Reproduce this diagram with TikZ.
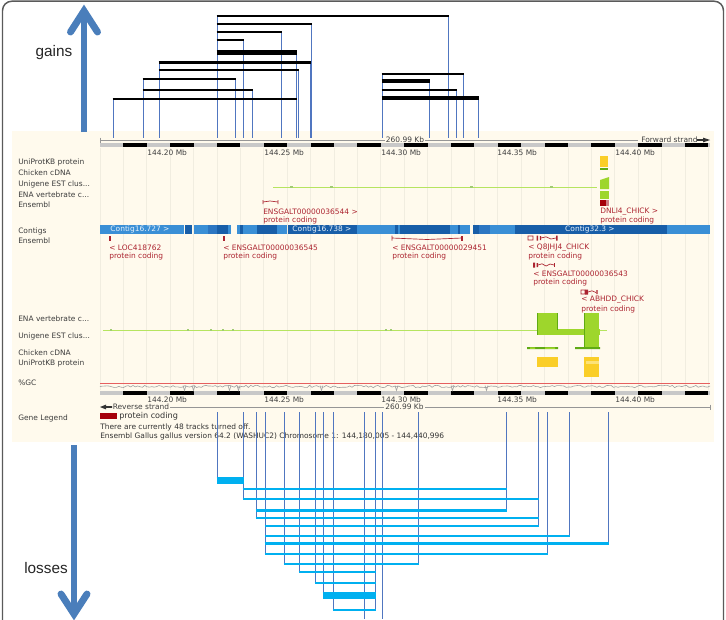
\documentclass[tikz,border=0pt]{standalone}
\usepackage{fontspec}
\setmainfont{DejaVu Sans}
\newfontfamily\headfont{Liberation Sans}
\usetikzlibrary{arrows.meta}

\definecolor{framegray}{RGB}{90,90,90}
\definecolor{panelcream}{RGB}{255,250,237}
\definecolor{gridline}{RGB}{241,237,224}
\definecolor{rulergray}{RGB}{200,200,200}
\definecolor{scalegray}{RGB}{150,150,150}
\definecolor{labelgray}{RGB}{60,60,60}
\definecolor{genered}{RGB}{172,36,48}
\definecolor{legendred}{RGB}{165,0,10}
\definecolor{contigL}{RGB}{58,143,214}
\definecolor{contigM}{RGB}{44,118,194}
\definecolor{contigD}{RGB}{24,94,168}
\definecolor{lime}{RGB}{158,214,44}
\definecolor{limedark}{RGB}{96,170,20}
\definecolor{limelight}{RGB}{182,228,96}
\definecolor{featyellow}{RGB}{250,206,40}
\definecolor{featyellowlight}{RGB}{252,226,120}
\definecolor{gcred}{RGB}{230,95,95}
\definecolor{gcgray}{RGB}{160,160,160}
\definecolor{arrowblue}{RGB}{74,126,187}
\definecolor{linkblue}{RGB}{80,118,192}
\definecolor{losscyan}{RGB}{0,176,240}

\begin{document}
\begin{tikzpicture}[x=0.75pt,y=-0.75pt,
  tiny/.style={font=\fontsize{5.6}{6.5}\selectfont, inner sep=0pt, anchor=west},
  tracklabel/.style={tiny, text=labelgray},
  genetext/.style={tiny, text=genered},
  rulertext/.style={tiny, text=black!75},
  contigtext/.style={tiny, anchor=center, text=white!88!contigL},
  vlink/.style={draw=linkblue, line width=0.6pt},
  gainbar/.style={draw=black},
  lossbar/.style={draw=losscyan},
  bigarrow/.style={draw=arrowblue, line width=5.2pt},
  headtext/.style={font=\headfont\fontsize{11.5}{13}\selectfont, text=black!85, inner sep=0pt}]

\useasboundingbox (0,0) rectangle (726,619);
\fill[white] (0,0) rectangle (726,619);

% outer frame, open below the visible area
\draw[framegray, line width=1.1pt, rounded corners=7pt] (2.5,1.2) rectangle (723.5,660);

% ---------------- genome browser panel ----------------
\fill[panelcream] (12,131) rectangle (714,442);

% faint 10 kb grid
\foreach \k in {0,...,26}
  \draw[gridline, line width=0.5pt] ({100+23.4*\k},148) -- ({100+23.4*\k},390);

% rulers (forward and reverse strand)
\foreach \ry in {145,393} {
  \fill[rulergray] (100,\ry-1.6) rectangle (710,\ry+1.6);
  \foreach \k in {0,...,12}
    \fill[black] ({100+23.4*(2*\k+1)},\ry-1.6) rectangle ({100+23.4*(2*\k+2)},\ry+1.6);
}
\foreach \lab/\xx [count=\i] in {144.20/147,144.25/264,144.30/381,144.35/497,144.40/615} {
  \node[rulertext, name=mbtop\i] at (\xx,152.5) {\lab\ Mb};
  \node[rulertext, name=mbbot\i] at (\xx,399.5) {\lab\ Mb};
}

% forward strand scale line
\draw[scalegray, line width=0.5pt] (100,137.5) -- (100,142.5) (100,140) -- (385,140) (425,140) -- (638,140);
\node[rulertext, anchor=center] (kbtop) at (405,140) {260.99 Kb};
\node[rulertext] (fwd) at (641,140) {Forward strand};
\fill[black!80] (697,139.2) -- (703,139.2) -- (703,137.6) -- (710,140) -- (703,142.4) -- (703,140.8) -- (697,140.8) -- cycle;

% reverse strand scale line
\fill[black!80] (100,407) -- (106,404.6) -- (106,406.2) -- (112,406.2) -- (112,407.8) -- (106,407.8) -- (106,409.4) -- cycle;
\node[rulertext] (rev) at (112.5,407) {Reverse strand};
\draw[scalegray, line width=0.5pt] (170,407) -- (384,407) (425,407) -- (710,407) (710,404.5) -- (710,409.5);
\node[rulertext, anchor=center] (kbbot) at (404.5,407) {260.99 Kb};

% track names
\node[tracklabel] (t1) at (18,162) {UniProtKB protein};
\node[tracklabel] (t2) at (18,173) {Chicken cDNA};
\node[tracklabel] (t3) at (18,184) {Unigene EST clus...};
\node[tracklabel] (t4) at (18,194.5) {ENA vertebrate c...};
\node[tracklabel] (t5) at (18,205) {Ensembl};
\node[tracklabel] (t6) at (18,231) {Contigs};
\node[tracklabel] (t7) at (18,241) {Ensembl};
\node[tracklabel] (t8) at (18,319) {ENA vertebrate c...};
\node[tracklabel] (t9) at (18,336) {Unigene EST clus...};
\node[tracklabel] (t10) at (18,353) {Chicken cDNA};
\node[tracklabel] (t11) at (18,363) {UniProtKB protein};
\node[tracklabel] (t12) at (18,383) {\%GC};
\node[tracklabel] (t13) at (18,418) {Gene Legend};

% forward-strand features
\draw[limelight, line width=0.6pt] (273,187) -- (597,187);
\foreach \xx in {290,330,470,550} \fill[limedark!60] (\xx,186.3) rectangle (\xx+3,187.7);
\fill[featyellow] (600,156) rectangle (608,167);
\fill[limedark] (600,168.4) rectangle (608,170);
\fill[lime] (600,180) -- (606,178) -- (609,177) -- (609,189) -- (600,189) -- cycle;
\fill[lime] (600,190.5) rectangle (609,198.5);
\fill[legendred] (600,200) rectangle (609,205.5);
\fill[genered!60] (606,200) rectangle (609,205.5);

\draw[genered, line width=0.5pt] (263,200) -- (263,204) (263,202) -- (270,201) -- (278,202) (278,200) -- (278,204);
\node[genetext] (e36544) at (263,211.5) {ENSGALT00000036544 >};
\node[genetext] (e36544b) at (263,220.5) {protein coding};
\node[genetext] (dnli) at (600,211.5) {DNLI4\_CHICK >};
\node[genetext] (dnlib) at (600,220.5) {protein coding};

% contigs
\foreach \a/\b/\c in {100/183.5/contigL,184.5/192/contigD,194/208/contigL,208/217/contigM,
    217/228/contigD,228/231/contigL,237/240/contigL,240/243/contigD,243/257/contigL,
    257/277/contigD,277/287/contigL,288/357/contigD,357/395/contigL,395/398/contigD,
    398/400/contigL,400/450/contigD,450/458/contigL,458/460/contigD,460/470/contigL,
    473/479/contigD,479/490/contigM,490/515/contigL,515/667/contigD,667/710/contigL}
  \fill[\c] (\a,225) rectangle (\b,234);
\node[contigtext] (c1) at (140,229.5) {Contig16.727 >};
\node[contigtext] (c2) at (322,229.5) {Contig16.738 >};
\node[contigtext] (c3) at (590,229.5) {Contig32.3 >};

% reverse-strand genes
\fill[genered] (108.5,236) rectangle (110.5,241);
\fill[genered] (222.5,236) rectangle (224.5,241);
\draw[genered, line width=0.5pt] (392,235.5) -- (392,240.5) (392,238) -- (427,239.5) -- (462,238);
\fill[genered] (461.3,235.5) rectangle (462.8,240.5);
\draw[genered, line width=0.5pt] (528,236) rectangle (533,240) (541,238) -- (546,236.8) -- (551,239) -- (556,238);
\fill[genered] (536.5,235.5) rectangle (538.2,240.5) (539.8,236) rectangle (541,240) (556,235.5) rectangle (557.5,240.5);
\fill[genered] (533,262.5) rectangle (535,267.5) (536.5,263) rectangle (538,267);
\draw[genered, line width=0.5pt] (538,265) -- (542,263.8) -- (546,266) -- (550,264) -- (554,265);
\fill[genered] (554,262.7) rectangle (555.3,267.3);
\draw[genered, line width=0.5pt] (581,290) rectangle (585,294) (588,292) -- (592,290.8) -- (596,292.5);
\fill[genered] (585,289.5) rectangle (588,294.5) (596.3,290) rectangle (597.6,294);

\node[genetext] (loc) at (109,247.5) {< LOC418762};
\node[genetext] (locb) at (109,256.5) {protein coding};
\node[genetext] (e36545) at (223,247.5) {< ENSGALT00000036545};
\node[genetext] (e36545b) at (223,256.5) {protein coding};
\node[genetext] (e29451) at (392,247.5) {< ENSGALT00000029451};
\node[genetext] (e29451b) at (392,256.5) {protein coding};
\node[genetext] (q8) at (528,247.5) {< Q8JHJ4\_CHICK};
\node[genetext] (q8b) at (528,256.5) {protein coding};
\node[genetext] (e36543) at (533,273.5) {< ENSGALT00000036543};
\node[genetext] (e36543b) at (533,282.5) {protein coding};
\node[genetext] (abhdd) at (581,300) {< ABHDD\_CHICK};
\node[genetext] (abhddb) at (581,309) {protein coding};

% reverse-strand alignments
\draw[limelight, line width=0.6pt] (103,330) -- (607,330);
\foreach \xx in {110,187,210,222,232,385,390} \fill[limedark!60] (\xx,329.3) rectangle (\xx+2,330.7);
\fill[lime] (537,313) rectangle (558,335);
\fill[lime] (537,328.5) rectangle (600,335);
\fill[lime] (584,313) rectangle (599,347);
\draw[limedark, line width=0.7pt] (537.5,313) -- (537.5,335) (557.5,313) -- (557.5,330) (584.5,313) -- (584.5,347);
\fill[limedark] (527,347.2) rectangle (558,349) (575,347.2) rectangle (600,349);
\fill[lime] (530,347.4) rectangle (535,348.8) (545,347.4) rectangle (555,348.8);
\fill[featyellow] (537,357) rectangle (558,367);
\fill[featyellow] (584,357) rectangle (599,377);
\fill[featyellowlight] (586,361) rectangle (599,363.5);

% %GC trace
\pgfmathsetseed{11}
\draw[gcgray, line width=0.45pt] plot[domain=100:710, samples=260, variable=\t] (\t,{386.5+1.2*rand});
\foreach \xx in {183,192,228,237,320,451,485,395} \draw[gcgray, line width=0.45pt] (\xx,385.5) -- (\xx+1.5,390.5) -- (\xx+3,385.5);
\draw[gcred, line width=0.6pt] (100,383.5) -- (710,383.5);

% gene legend
\fill[legendred] (100,413.2) rectangle (116.5,419);
\node[tiny, font=\fontsize{6.1}{7}\selectfont, text=black!80] (legpc) at (119,416) {protein coding};
\node[tiny, text=black!80] (info1) at (100,427) {There are currently 48 tracks turned off.};
\node[tiny, text=black!80] (info2) at (100,436) {Ensembl Gallus gallus version 64.2 (WASHUC2) Chromosome 1: 144,180,005 - 144,440,996};

% ---------------- gains ----------------
\foreach \yy/\a/\b/\w in {16/217/448/2, 24/217/311/2, 32/217/281/2, 40/217/243/2, 52/217/296/5,
    62/159/310/3, 70/159/298/2, 79/143/235/2, 90/143/252/2, 99/113/296/2,
    74/382/463/2, 81/382/429/4, 90/382/456/2, 98/382/478/4}
  \draw[vlink] (\a,\yy) -- (\a,138) (\b,\yy) -- (\b,138);
\foreach \yy/\a/\b/\w in {16/217/448/2, 24/217/311/2, 32/217/281/2, 40/217/243/2, 52/217/296/5,
    62/159/310/3, 70/159/298/2, 79/143/235/2, 90/143/252/2, 99/113/296/2,
    74/382/463/2, 81/382/429/4, 90/382/456/2, 98/382/478/4} {
  \pgfmathsetmacro\lw{0.75*\w}
  \draw[gainbar, line width=\lw pt] (\a-0.5,\yy) -- (\b+0.5,\yy);
}

% ---------------- losses ----------------
\draw[vlink] (364,412) -- (364,619) (382,412) -- (382,619);
\foreach \yy/\a/\b/\w in {480/217/243/7, 489/243/506/2, 499/243/538/2, 510/256/506/3,
    518/256/538/2, 526/265/538/2, 536/265/569/2, 543/265/608/3, 554/265/547/2,
    564/284/418/2, 572/299/375/2, 583/315/375/2, 595/323/375/7, 610/333/375/2}
  \draw[vlink] (\a,412) -- (\a,\yy) (\b,412) -- (\b,\yy);
\foreach \yy/\a/\b/\w in {480/217/243/7, 489/243/506/2, 499/243/538/2, 510/256/506/3,
    518/256/538/2, 526/265/538/2, 536/265/569/2, 543/265/608/3, 554/265/547/2,
    564/284/418/2, 572/299/375/2, 583/315/375/2, 595/323/375/7, 610/333/375/2} {
  \pgfmathsetmacro\lw{0.75*\w}
  \draw[lossbar, line width=\lw pt] (\a-0.5,\yy) -- (\b+0.5,\yy);
}

% ---------------- direction arrows ----------------
\draw[bigarrow] (84,132) -- (84,12);
\draw[bigarrow, line join=miter, line cap=round] (70.5,32) -- (84,11) -- (97.5,32);
\node[headtext] (gains) at (54,53) {gains};

\draw[bigarrow] (74,445) -- (74,612);
\draw[bigarrow, line join=miter, line cap=round] (61,594) -- (74,614) -- (87,594);
\node[headtext] (losses) at (46,568) {losses};
\end{tikzpicture}
\end{document}
